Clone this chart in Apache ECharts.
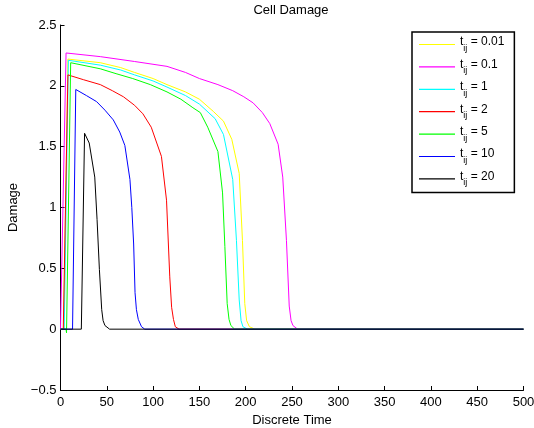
<!DOCTYPE html>
<html>
<head>
<meta charset="utf-8">
<script src="https://cdn.jsdelivr.net/npm/echarts@6/dist/echarts.min.js"></script>
<style>
  html, body { margin: 0; padding: 0; background: #fff; }
  #chart { width: 534px; height: 428px; }
</style>
</head>
<body>
<div id="chart"></div>
<script>
// Cell damage over discrete time for several t_ij values ([time, damage] pairs)
const legendLabels = ['0.01', '0.1', '1', '2', '5', '10', '20'];
const lineColors = ['#ffff00', '#ff00ff', '#00ffff', '#ff0000', '#00ff00', '#0000ff', '#000000'];

const damage001 = [[0,0],[3.5,0],[8,2.22],[43,2.19],[65,2.15],[80,2.11],[100,2.06],[115,2.01],[135,1.95],[150,1.89],[165,1.79],[176,1.71],[185,1.56],[193,1.28],[196.5,0.73],[199,0.21],[201,0.07],[204,0.02],[210,0],[500,0]];
const damage01 = [[0,0],[2,0],[6,2.27],[43,2.24],[80,2.20],[115,2.16],[135,2.11],[150,2.06],[170,2.01],[186,1.96],[198,1.91],[208,1.86],[218,1.78],[226,1.69],[235,1.52],[240,1.25],[244,0.73],[247,0.19],[249,0.07],[251,0.03],[256,0],[500,0]];
const damage1 = [[0,0],[4,0],[8.5,2.21],[43,2.17],[65,2.13],[80,2.09],[100,2.04],[115,1.99],[135,1.92],[150,1.85],[167,1.73],[176,1.60],[186,1.23],[190,0.73],[193,0.24],[195,0.07],[197,0.02],[202,0],[500,0]];
const damage2 = [[0,0],[3,0],[8,2.09],[25,2.05],[43,2.01],[56,1.96],[68,1.91],[80,1.84],[89,1.77],[98,1.66],[109,1.42],[114.5,1.06],[118,0.43],[120,0.18],[122,0.08],[124,0.02],[128,0],[500,0]];
const damage5 = [[0,0],[6,0],[6.5,-0.03],[11,2.19],[43,2.14],[60,2.10],[78,2.06],[97,2.01],[115,1.95],[130,1.89],[143,1.82],[151,1.78],[159,1.66],[170,1.46],[175,1.12],[177.5,0.68],[180,0.21],[182,0.08],[184,0.03],[188,0],[500,0]];
const damage10 = [[0,0],[13,0],[16.5,1.97],[28,1.92],[39,1.87],[48,1.80],[57,1.72],[64,1.62],[69.5,1.51],[75,1.23],[77,1.0],[79,0.7],[80.5,0.30],[82,0.16],[84,0.08],[87.5,0.02],[91,0],[500,0]];
const damage20 = [[0,0],[22.5,0],[26,1.61],[31,1.53],[37,1.25],[39.5,0.90],[42,0.49],[44.5,0.16],[46,0.07],[48,0.03],[53,0],[500,0]];

const seriesData = [damage001, damage01, damage1, damage2, damage5, damage10, damage20];

const FONT = 'Liberation Sans, Helvetica, Arial, sans-serif';

const chart = echarts.init(document.getElementById('chart'), null, { renderer: 'canvas' });

chart.setOption({
  animation: false,
  backgroundColor: '#ffffff',
  title: {
    text: 'Cell Damage',
    left: 291,
    top: 4,
    padding: 0,
    textAlign: 'center',
    textStyle: { fontFamily: FONT, fontSize: 13, fontWeight: 'normal', color: '#000' }
  },
  grid: { left: 60.5, top: 25, right: 10.5, bottom: 38, containLabel: false, outerBoundsMode: 'none' },
  xAxis: {
    type: 'value',
    min: 0, max: 500, interval: 50,
    name: 'Discrete Time',
    nameLocation: 'middle',
    nameGap: 19,
    nameTextStyle: { fontFamily: FONT, fontSize: 13, color: '#000' },
    axisLine: { show: true, onZero: false, lineStyle: { color: '#000', width: 1 } },
    axisTick: { show: true, inside: true, length: 4, lineStyle: { color: '#000' } },
    axisLabel: { margin: 6, fontFamily: FONT, fontSize: 13, color: '#000' },
    splitLine: { show: false }
  },
  yAxis: {
    type: 'value',
    min: -0.5, max: 2.5, interval: 0.5,
    name: 'Damage',
    nameLocation: 'middle',
    nameGap: 34,
    nameTextStyle: { fontFamily: FONT, fontSize: 13, color: '#000' },
    axisLine: { show: true, onZero: false, lineStyle: { color: '#000', width: 1 } },
    axisTick: { show: true, inside: true, length: 4, lineStyle: { color: '#000' } },
    axisLabel: {
      margin: 4, fontFamily: FONT, fontSize: 13, color: '#000',
      formatter: v => (v < 0 ? '\u2212' + String(-v) : String(v))
    },
    splitLine: { show: false }
  },
  legend: {
    orient: 'vertical',
    left: 412,
    top: 32,
    padding: [4, 10, 5, 7],
    icon: 'rect',
    itemWidth: 36,
    itemHeight: 1.2,
    itemGap: 5.4,
    itemTextGap: 4,
    backgroundColor: '#ffffff',
    borderColor: '#000000',
    borderWidth: 1.5,
    borderRadius: 0,
    data: legendLabels,
    formatter: name => '{t|t}{s|ij}{t| = ' + name + '}',
    textStyle: {
      fontFamily: FONT,
      color: '#000',
      rich: {
        t: { fontFamily: FONT, fontSize: 12, lineHeight: 17, verticalAlign: 'top', color: '#000' },
        s: { fontFamily: FONT, fontSize: 9, lineHeight: 17, verticalAlign: 'bottom', color: '#000' }
      }
    }
  },
  series: seriesData.map((d, i) => ({
    name: legendLabels[i],
    type: 'line',
    data: d,
    symbol: 'none',
    showSymbol: false,
    smooth: false,
    clip: true,
    lineStyle: { color: lineColors[i], width: 1 },
    itemStyle: { color: lineColors[i] },
    emphasis: { disabled: true }
  }))
});
</script>
</body>
</html>
